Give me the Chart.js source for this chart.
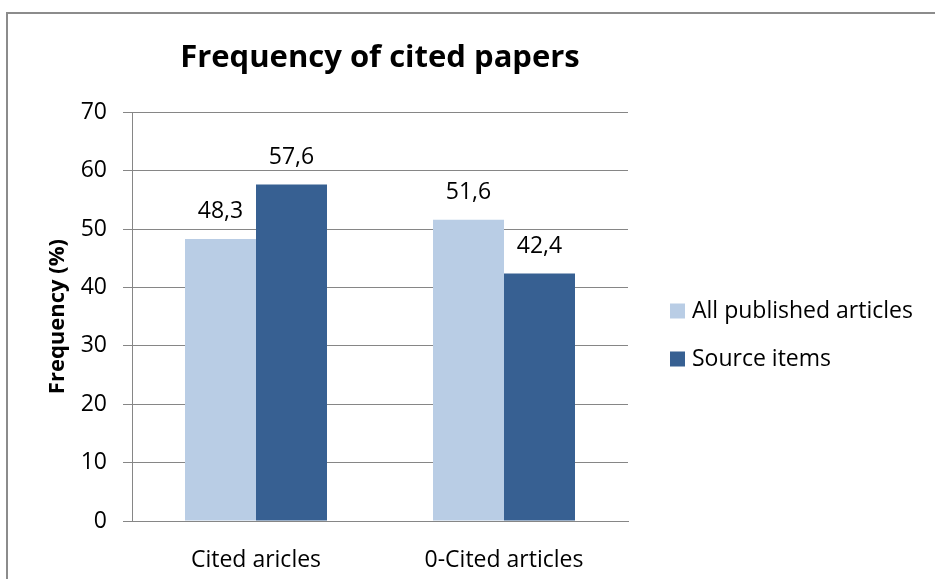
<!DOCTYPE html>
<html>
<head>
<meta charset="utf-8">
<script src="https://cdn.jsdelivr.net/npm/chart.js@4/dist/chart.umd.min.js"></script>
<style>
  html, body { margin: 0; padding: 0; background: #ffffff; }
  #wrap { position: relative; width: 935px; height: 579px; overflow: hidden; }
  #frame { position: absolute; left: 6px; top: 12px; width: 1000px; height: 1000px; border-left: 2px solid #8c8c8c; border-top: 2px solid #8c8c8c; box-sizing: border-box; }
  canvas { position: absolute; left: 0; top: 0; }
</style>
</head>
<body>
<div id="wrap">
  <div id="frame"></div>
  <canvas id="c" width="935" height="579"></canvas>
</div>
<script>
const categories = ["Cited aricles", "0-Cited articles"];
const seriesNames = ["All published articles", "Source items"];
const allPublished = [48.3, 51.6];
const sourceItems = [57.6, 42.4];
const yTicks = [0, 10, 20, 30, 40, 50, 60, 70];
const titleText = "Frequency of cited papers";
const yTitleText = "Frequency (%)";
const colors = ["#B9CDE5", "#376092"];

const FONT = "'Open Sans', 'Noto Sans', sans-serif";

const dataLabels = {
  id: 'dataLabels',
  afterDatasetsDraw(chart) {
    const ctx = chart.ctx;
    ctx.save();
    ctx.font = "23px " + FONT;
    ctx.fillStyle = "#000000";
    ctx.textAlign = "center";
    ctx.textBaseline = "middle";
    chart.data.datasets.forEach((ds, i) => {
      const meta = chart.getDatasetMeta(i);
      meta.data.forEach((bar, j) => {
        const txt = ds.data[j].toFixed(1).replace('.', ',');
        ctx.fillText(txt, bar.x, bar.y - 27);
      });
    });
    ctx.restore();
  }
};

const customLegend = {
  id: 'customLegend',
  afterDraw(chart) {
    const ctx = chart.ctx;
    ctx.save();
    ctx.font = "23px " + FONT;
    ctx.textAlign = "left";
    ctx.textBaseline = "middle";
    const x0 = chart.chartArea.right + 42;
    const yc = [311, 359];
    chart.data.datasets.forEach((ds, i) => {
      ctx.fillStyle = ds.backgroundColor;
      ctx.fillRect(x0, yc[i] - 7.5, 15, 15);
      ctx.fillStyle = "#000000";
      ctx.fillText(ds.label, x0 + 22, yc[i]);
    });
    ctx.restore();
  }
};

new Chart(document.getElementById('c'), {
  type: 'bar',
  data: {
    labels: categories,
    datasets: [
      { label: seriesNames[0], data: allPublished, backgroundColor: colors[0], categoryPercentage: 0.5726, barPercentage: 1.0 },
      { label: seriesNames[1], data: sourceItems, backgroundColor: colors[1], categoryPercentage: 0.5726, barPercentage: 1.0 }
    ]
  },
  options: {
    responsive: false,
    animation: false,
    devicePixelRatio: 1,
    layout: { padding: { left: 44, right: 307, top: 0, bottom: 0 } },
    plugins: {
      legend: { display: false },
      tooltip: { enabled: false },
      title: {
        display: true,
        text: titleText,
        fullSize: false,
        color: "#000000",
        font: { family: FONT, size: 31, weight: 'bold' },
        padding: { top: 40, bottom: 35 }
      }
    },
    scales: {
      x: {
        grid: { display: false },
        border: { display: true, color: "#868686", width: 1 },
        ticks: { color: "#000000", font: { family: FONT, size: 23 }, padding: 18, maxRotation: 0 },
        afterFit(scale) { scale.height = 58; }
      },
      y: {
        min: 0,
        max: 70,
        afterBuildTicks(scale) { scale.ticks = yTicks.map(v => ({ value: v })); },
        grid: { color: "#868686", lineWidth: 1, tickLength: 9, drawTicks: true },
        border: { display: true, color: "#868686", width: 1 },
        ticks: { color: "#000000", font: { family: FONT, size: 23 }, padding: 16 },
        title: {
          display: true,
          text: yTitleText,
          color: "#000000",
          font: { family: FONT, size: 22, weight: 'bold' },
          padding: { top: 1, bottom: 0 }
        },
        afterFit(scale) { scale.width = 88; }
      }
    }
  },
  plugins: [dataLabels, customLegend]
});
</script>
</body>
</html>
